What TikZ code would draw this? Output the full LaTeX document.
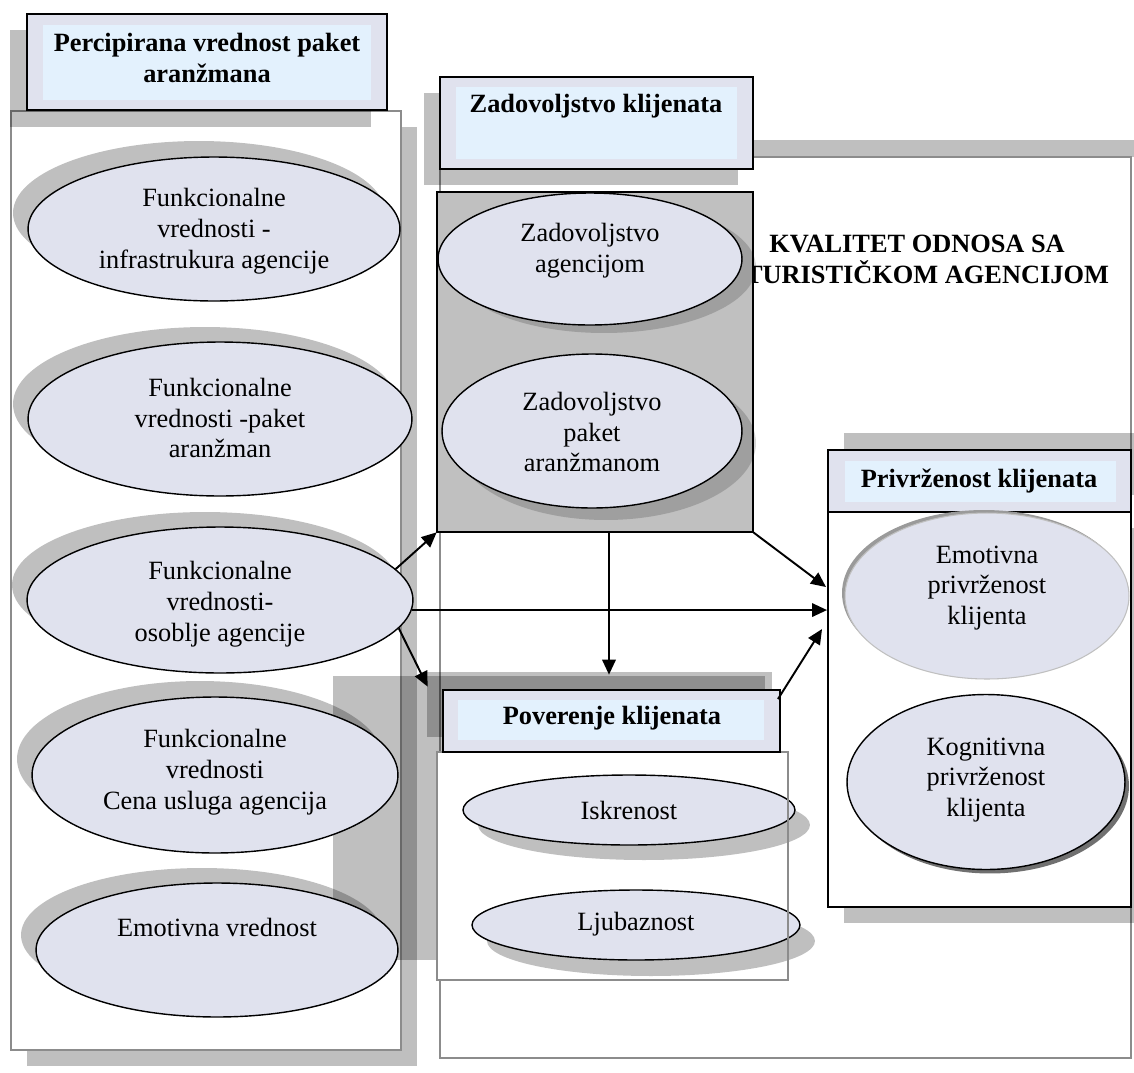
\documentclass[tikz,border=0pt]{standalone}
\usepackage{fontspec}
\setmainfont{Liberation Serif}
\usetikzlibrary{shapes.geometric,arrows.meta,fit,calc}
\definecolor{lav}{HTML}{E0E2EE}
\definecolor{skyin}{HTML}{E3F1FD}
\definecolor{shade}{HTML}{C0C0C0}
\definecolor{panelline}{HTML}{8C8C8C}
\definecolor{softedge}{HTML}{9A9A9A}
\definecolor{darkshade}{HTML}{707070}
\begin{document}
\begin{tikzpicture}[x=0.02cm,y=-0.02cm,
  shadow/.style={fill=black,fill opacity=0.25,draw=none},
  innershadow/.style={fill=black,fill opacity=0.17,draw=none},
  hbox/.style={draw=black,line width=1.1pt,fill=lav,inner sep=0pt},
  panel/.style={draw=panelline,line width=1.1pt,fill=white,inner sep=0pt},
  oval/.style={ellipse,draw=black,line width=0.8pt,fill=lav,inner sep=0pt},
  txt/.style={align=center,inner sep=0pt,font=\fontsize{15}{17.6}\selectfont},
  ttl/.style={align=center,inner sep=0pt,font=\fontsize{15}{17.6}\selectfont\bfseries},
  link/.style={line width=1.1pt,-{Triangle[length=0.3cm,width=0.27cm]}}]
\useasboundingbox (0,0) rectangle (1134,1073);

% ---------- left column: perceived value ----------
\fill[shadow] (27,127) rectangle (417,1066);
\node[panel, fit={(11,111) (401,1050)}] (lpanel) {};
\fill[shadow] (10,30) rectangle (371,127);
\node[hbox, fit={(27,14) (387,110)}] (ltitle) {};
\fill[skyin] (43,25) rectangle (371,100);
\node[ttl] (ltext) at (207,58) {Percipirana vrednost paket\\aranžmana};

% ---------- big frame: relationship quality ----------
\fill[shadow] (456,140) rectangle (1134,157);
\node[panel, fit={(440,157) (1131,1058)}] (kpanel) {};
\node[ttl] (ktext) at (927,259) {KVALITET ODNOSA SA\hspace*{0.75em}\\TURISTIČKOM AGENCIJOM};

% ---------- satisfaction ----------
\fill[shadow] (424,93) rectangle (738,185);
\node[hbox, fit={(440,77) (753,169)}] (ztitle) {};
\fill[skyin] (456,87) rectangle (737,159);
\node[ttl] (ztext) at (596,106) {Zadovoljstvo klijenata};

\node[fit={(437,192) (753,532)}, inner sep=0pt, fill=shade] (zgrp) {};
\fill[innershadow] (604,267) ellipse [x radius=3.04cm, y radius=1.32cm];
\fill[innershadow] (606,443) ellipse [x radius=3.0cm, y radius=1.54cm];
\node[oval, minimum width=6.08cm, minimum height=2.64cm] (m1) at (590,259) {};
\node[txt] (m1t) at (590,251) {Zadovoljstvo\\agencijom};
\node[oval, minimum width=6.0cm, minimum height=3.08cm] (m2) at (592,431) {};
\node[txt] (m2t) at (592,432) {Zadovoljstvo\\paket\\aranžmanom};
\draw[line width=1.1pt] (zgrp.south west) rectangle (zgrp.north east);

% ---------- cast shadows around the trust block ----------
\fill[shadow] (333,676) rectangle (765,960);
\node[fit={(427,672) (772,737)}, inner sep=0pt, fill=black, fill opacity=0.25] (povsh) {};

% ---------- trust ----------
\node[fit={(437,752) (788,980)}, inner sep=0pt, fill=white] (ppanel) {};
\fill[shadow] (644,825) ellipse [x radius=3.32cm, y radius=0.7cm];
\fill[shadow] (651,941) ellipse [x radius=3.28cm, y radius=0.7cm];
\node[oval, minimum width=6.64cm, minimum height=1.4cm] (isk) at (629,810) {};
\node[txt] (iskt) at (629,810) {Iskrenost};
\node[oval, minimum width=6.56cm, minimum height=1.4cm] (lju) at (636,925) {};
\node[txt] (ljut) at (636,924) {Ljubaznost};
\draw[panelline, line width=1.1pt] (ppanel.south west) rectangle (ppanel.north east);
\node[hbox, fit={(443,690) (780,752)}] (ptitle) {};
\fill[skyin] (458,700) rectangle (764,740);
\node[ttl] (ptext) at (612,718) {Poverenje klijenata};

% ---------- loyalty ----------
\fill[shadow] (844,433) rectangle (1147,495);
\fill[shadow] (844,528) rectangle (1147,923);
\node[hbox, fit={(828,450) (1131,512)}] (prtitle) {};
\fill[skyin] (845,461) rectangle (1116,502);
\node[ttl] (prtext) at (979,481) {Privrženost klijenata};
\node[fit={(828,512) (1131,907)}, inner sep=0pt, draw=black, line width=1.1pt, fill=white] (privp) {};
\fill[softedge] (984,593) ellipse [x radius=2.84cm, y radius=1.66cm];
\node[ellipse, fill=lav, draw=shade, line width=0.6pt, inner sep=0pt,
      minimum width=5.68cm, minimum height=3.32cm] (emo) at (987,596) {};
\node[txt] (emot) at (987,588) {Emotivna\\privrženost\\klijenta};
\fill[darkshade] (990,786) ellipse [x radius=2.78cm, y radius=1.75cm];
\node[oval, minimum width=5.56cm, minimum height=3.5cm] (kog) at (986,782) {};
\node[txt] (kogt) at (986,780) {Kognitivna\\privrženost\\klijenta};

% ---------- left column ovals ----------
\fill[shadow] (199,213) ellipse [x radius=3.72cm, y radius=1.44cm];
\node[oval, minimum width=7.44cm, minimum height=2.88cm] (e1) at (214,229) {};
\node[txt] (e1t) at (214,231) {Funkcionalne\\vrednosti -\\infrastrukura agencije};

\fill[shadow] (205,404) ellipse [x radius=3.84cm, y radius=1.54cm];
\node[oval, minimum width=7.68cm, minimum height=3.08cm] (e2) at (220,419) {};
\node[txt] (e2t) at (220,418) {Funkcionalne\\vrednosti -paket\\aranžman};

\fill[shadow] (205,585) ellipse [x radius=3.86cm, y radius=1.46cm];
\node[oval, minimum width=7.72cm, minimum height=2.92cm] (e3) at (220,600) {};
\node[txt] (e3t) at (220,604) {Funkcionalne\\vrednosti-\\osoblje agencije};

\fill[shadow] (200,759) ellipse [x radius=3.66cm, y radius=1.56cm];
\node[oval, minimum width=7.32cm, minimum height=3.12cm] (e4) at (215,775) {};
\node[txt] (e4t) at (215,772) {Funkcionalne\\vrednosti\\Cena usluga agencija};

\fill[shadow] (202,935) ellipse [x radius=3.62cm, y radius=1.34cm];
\node[oval, minimum width=7.24cm, minimum height=2.68cm] (e5) at (217,950) {};
\node[txt] (e5t) at (217,927) {Emotivna vrednost};

% ---------- connectors ----------
\draw[link] (e3.10.9) -- (zgrp.south west);
\draw[link] (e3.-3.9) -- (e3.-3.9 -| privp.west);
\draw[link] (e3.-9.7) -- ($(povsh.north west)+(1,15)$);
\coordinate (zdown) at ($(zgrp.south)+(14,0)$);
\draw[link] (zdown) -- ($(zdown |- povsh.north)+(0,3)$);
\draw[link] (zgrp.south east) -- ($(privp.north west)+(-1,76)$);
\draw[link] ($(ptitle.north east)+(-3,10)$) -- ($(privp.north west)+(-5,118)$);
\end{tikzpicture}
\end{document}
